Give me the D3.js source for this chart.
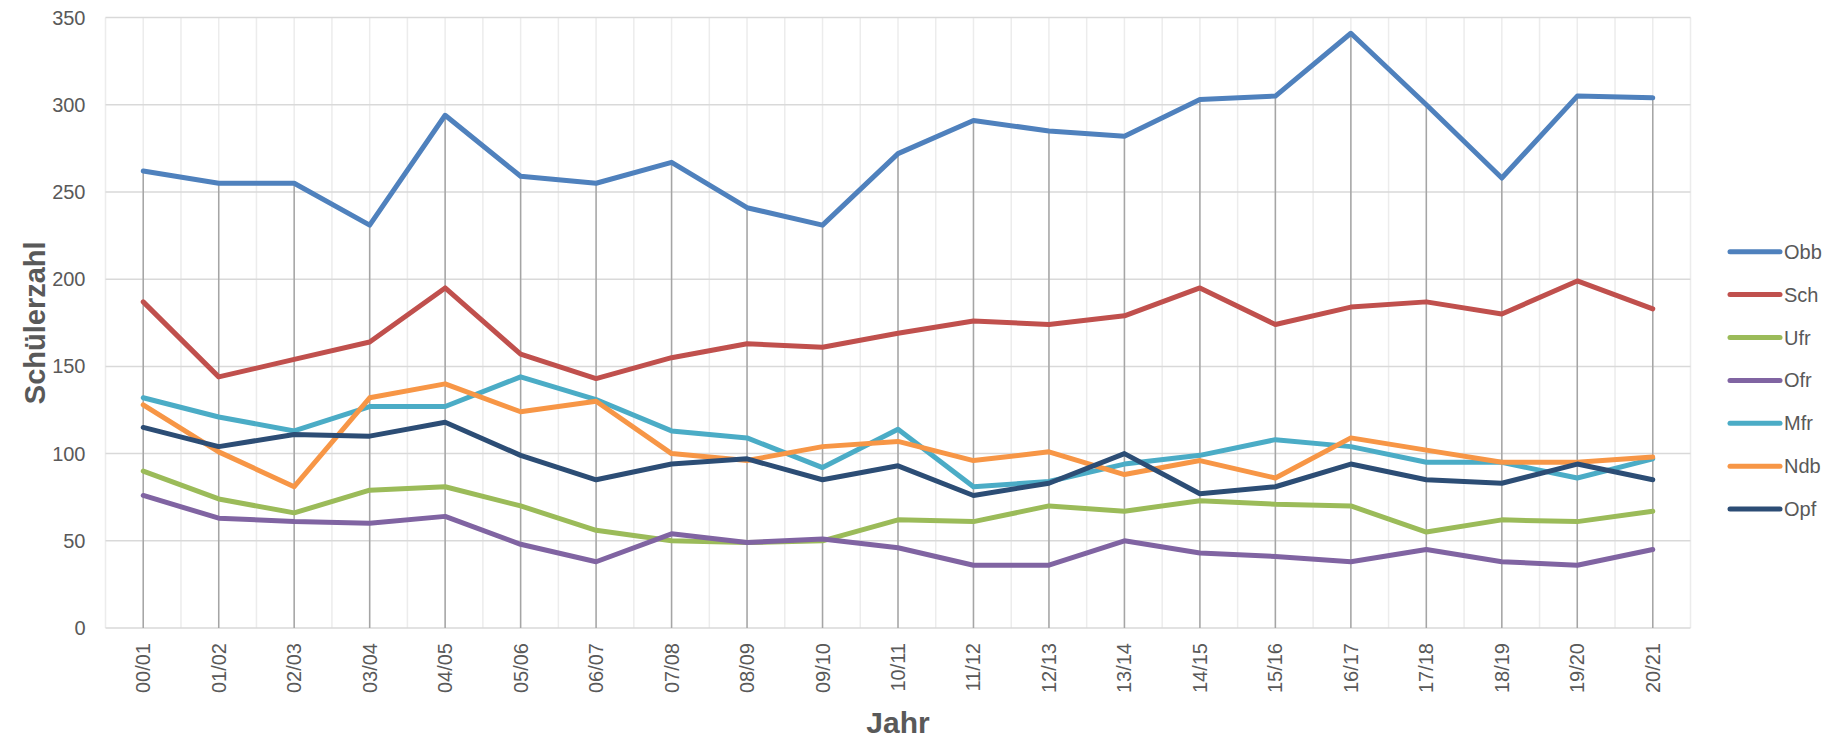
<!DOCTYPE html>
<html>
<head>
<meta charset="utf-8">
<script src="https://cdn.jsdelivr.net/npm/d3@7"></script>
<style>
  body { margin: 0; background: #fff; }
  text { font-family: "Liberation Sans", Arial, sans-serif; fill: #595959; }
</style>
</head>
<body>
<div id="chart"></div>
<script>
var years = ["00/01","01/02","02/03","03/04","04/05","05/06","06/07","07/08","08/09","09/10",
             "10/11","11/12","12/13","13/14","14/15","15/16","16/17","17/18","18/19","19/20","20/21"];

var obb = [262,255,255,231,294,259,255,267,241,231,272,291,285,282,303,305,341,300,258,305,304];
var sch = [187,144,154,164,195,157,143,155,163,161,169,176,174,179,195,174,184,187,180,199,183];
var ufr = [90,74,66,79,81,70,56,50,49,50,62,61,70,67,73,71,70,55,62,61,67];
var ofr = [76,63,61,60,64,48,38,54,49,51,46,36,36,50,43,41,38,45,38,36,45];
var mfr = [132,121,113,127,127,144,131,113,109,92,114,81,84,94,99,108,104,95,95,86,97];
var ndb = [128,101,81,132,140,124,130,100,96,104,107,96,101,88,96,86,109,102,95,95,98];
var opf = [115,104,111,110,118,99,85,94,97,85,93,76,83,100,77,81,94,85,83,94,85];

var yTicks = [0,50,100,150,200,250,300,350];

var series = [
    {name: "Obb", values: obb, color: "#4F81BD"},
    {name: "Sch", values: sch, color: "#C0504D"},
    {name: "Ufr", values: ufr, color: "#9BBB59"},
    {name: "Ofr", values: ofr, color: "#8064A2"},
    {name: "Mfr", values: mfr, color: "#4BACC6"},
    {name: "Ndb", values: ndb, color: "#F79646"},
    {name: "Opf", values: opf, color: "#2C4D75"}
];

var width = 1838, height = 741;
var margin = {left: 105.5, right: 1690.5, top: 17.6, bottom: 628};

var svg = d3.select("#chart")
    .append("svg")
    .attr("width", width)
    .attr("height", height);

var x = d3.scaleBand().domain(years).range([margin.left, margin.right]).padding(0);
var y = d3.scaleLinear().domain([0, 350]).range([margin.bottom, margin.top]);
var cx = function(d) { return x(d) + x.bandwidth() / 2; };

// vertical gridlines (category + boundaries)
var vlines = [];
years.forEach(function(d) { vlines.push(x(d)); vlines.push(cx(d)); });
vlines.push(margin.right);
svg.append("g").selectAll("line")
    .data(vlines)
    .enter().append("line")
    .attr("x1", function(d) { return d; })
    .attr("x2", function(d) { return d; })
    .attr("y1", margin.top)
    .attr("y2", margin.bottom)
    .attr("stroke", "#ececec")
    .attr("stroke-width", 1.5);

// horizontal gridlines
svg.append("g").selectAll("line")
    .data(yTicks)
    .enter().append("line")
    .attr("x1", margin.left)
    .attr("x2", margin.right)
    .attr("y1", function(d) { return y(d); })
    .attr("y2", function(d) { return y(d); })
    .attr("stroke", "#d9d9d9")
    .attr("stroke-width", 1.5);

// drop lines
svg.append("g").selectAll("line")
    .data(years)
    .enter().append("line")
    .attr("x1", cx)
    .attr("x2", cx)
    .attr("y1", function(d, i) { return y(d3.max(series, function(s) { return s.values[i]; })); })
    .attr("y2", margin.bottom)
    .attr("stroke", "#a5a5a5")
    .attr("stroke-width", 1.5);

// y axis labels
var yAxis = svg.append("g")
    .attr("transform", "translate(" + (margin.left - 20) + ",0)")
    .call(d3.axisLeft(y).tickValues(yTicks).tickSize(0).tickPadding(0));
yAxis.select(".domain").remove();
yAxis.selectAll("text")
    .attr("font-size", 20)
    .attr("font-family", "Liberation Sans, Arial, sans-serif")
    .attr("fill", "#595959");

// x axis labels
var xAxis = svg.append("g")
    .attr("transform", "translate(0," + margin.bottom + ")")
    .call(d3.axisBottom(x).tickSize(0).tickPadding(0));
xAxis.select(".domain").remove();
xAxis.selectAll("text")
    .attr("font-size", 20)
    .attr("font-family", "Liberation Sans, Arial, sans-serif")
    .attr("fill", "#595959")
    .attr("text-anchor", "end")
    .attr("transform", "translate(0,15) rotate(-90)")
    .attr("x", 0)
    .attr("y", 0)
    .attr("dy", "0.35em");

// lines
var line = d3.line()
    .x(function(d, i) { return cx(years[i]); })
    .y(function(d) { return y(d); });

series.forEach(function(s) {
    svg.append("path")
        .datum(s.values)
        .attr("fill", "none")
        .attr("stroke", s.color)
        .attr("stroke-width", 5)
        .attr("stroke-linejoin", "round")
        .attr("stroke-linecap", "round")
        .attr("d", line);
});

// axis titles
svg.append("text")
    .attr("transform", "translate(35," + ((margin.top + margin.bottom) / 2) + ") rotate(-90)")
    .attr("text-anchor", "middle")
    .attr("dy", "0.35em")
    .attr("font-size", 29)
    .attr("font-weight", "bold")
    .text("Schülerzahl");

svg.append("text")
    .attr("x", (margin.left + margin.right) / 2)
    .attr("y", 733)
    .attr("text-anchor", "middle")
    .attr("font-size", 30)
    .attr("font-weight", "bold")
    .text("Jahr");

// legend
var legend = svg.append("g").selectAll("g")
    .data(series)
    .enter().append("g")
    .attr("transform", function(d, i) { return "translate(1730," + (251.7 + i * 42.9) + ")"; });

legend.append("line")
    .attr("x1", 0)
    .attr("x2", 50)
    .attr("stroke", function(d) { return d.color; })
    .attr("stroke-width", 5)
    .attr("stroke-linecap", "round");

legend.append("text")
    .attr("x", 54)
    .attr("dy", "0.35em")
    .attr("font-size", 20)
    .text(function(d) { return d.name; });
</script>
</body>
</html>
